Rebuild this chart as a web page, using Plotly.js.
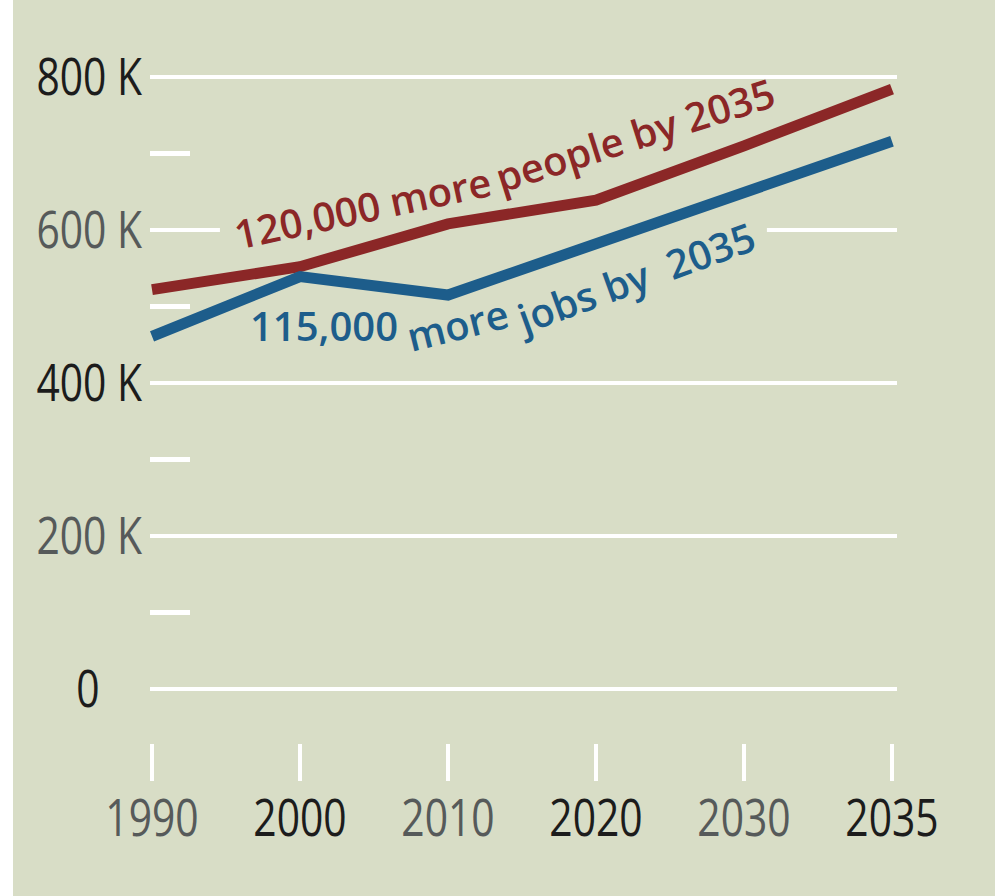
<!DOCTYPE html>
<html>
<head>
<meta charset="utf-8">
<script src="https://cdn.plot.ly/plotly-3.0.1.min.js"></script>
<style>
  html, body { margin: 0; padding: 0; background: #ffffff; }
  #chart { position: absolute; left: 13px; top: 0; width: 982px; height: 896px; }
</style>
</head>
<body>
<div id="chart"></div>
<script>
// ---- data ----
const years = ['1990', '2000', '2010', '2020', '2030', '2035'];
const people = [522000, 552000, 608000, 639000, 710000, 784000];
const jobs = [461000, 539000, 515000, 582000, 652000, 716000];

const yTickVals = [0, 200000, 400000, 600000, 800000];
const yTickText = ['0\u00a0\u00a0\u00a0\u00a0', '200 K', '400 K', '600 K', '800 K'];
const yMinorVals = [100000, 300000, 500000, 700000];
const xTickText = ['1990', '2000', '2010', '2020', '2030', '2035'];

const peopleLabel = ['120,000 more', 'people by 2035'];
const jobsLabel = ['115,000', 'more', 'jobs by\u00a0\u00a02035'];

// ---- styling ----
const BG = '#d8ddc6';
const RED = '#8b2727';
const BLUE = '#1d5d8b';
const DARK = '#1c1c1c';
const GRAY = '#565a5a';
const TICKFONT = 'Open Sans, Noto Sans, sans-serif';

const yColors = [DARK, GRAY, DARK, GRAY, DARK];
const xColors = [GRAY, DARK, GRAY, DARK, GRAY, DARK];

const traces = [
  { x: years, y: people, type: 'scatter', mode: 'lines', name: 'People',
    line: { color: RED, width: 11 }, hoverinfo: 'skip' },
  { x: years, y: jobs, type: 'scatter', mode: 'lines', name: 'Jobs',
    line: { color: BLUE, width: 11 }, hoverinfo: 'skip' }
];

const annFont = (c) => ({ family: 'Open Sans, Noto Sans, sans-serif', size: 40, color: c, weight: 600 });

const layout = {
  width: 982, height: 896,
  margin: { l: 137, r: 98, t: 60, b: 153 },
  paper_bgcolor: BG, plot_bgcolor: BG,
  showlegend: false,
  font: { family: TICKFONT, size: 51, color: DARK },
  xaxis: {
    type: 'category', range: [-0.0135, 5.034],
    tickmode: 'array', tickvals: years,
    ticktext: xTickText.map((t, i) => '<span style="color:' + xColors[i] + '">' + t + '</span>'),
    showgrid: false, zeroline: false, showline: false,
    ticks: 'outside', ticklen: 37, tickwidth: 4, tickcolor: '#ffffff',
    ticklabelstandoff: -6,
    tickfont: { family: TICKFONT, size: 51 },
    fixedrange: true
  },
  yaxis: {
    range: [-70600, 822200],
    tickmode: 'array', tickvals: yTickVals,
    ticktext: yTickText.map((t, i) => '<span style="color:' + yColors[i] + '">' + t + '</span>'),
    showgrid: true, gridcolor: '#ffffff', gridwidth: 4,
    zeroline: false, showline: false, ticks: '',
    ticklabelstandoff: 7,
    tickfont: { family: TICKFONT, size: 51 },
    minor: { tickmode: 'array', tickvals: yMinorVals, ticks: 'inside', ticklen: 40,
             tickwidth: 5, tickcolor: '#ffffff', showgrid: false },
    fixedrange: true
  },
  shapes: [
    { type: 'rect', layer: 'between', xref: 'x', yref: 'y',
      x0: 0.459, x1: 4.155, y0: 594000, y1: 606000,
      fillcolor: BG, line: { width: 0 } }
  ],
  annotations: [
    { xref: 'x', yref: 'y', x: 1.419, y: 628800, text: peopleLabel[0], textangle: -12,
      showarrow: false, xanchor: 'center', yanchor: 'middle', font: annFont(RED) },
    { xref: 'x', yref: 'y', x: 3.264, y: 724200, text: peopleLabel[1], textangle: -17.5,
      showarrow: false, xanchor: 'center', yanchor: 'middle', font: annFont(RED) },
    { xref: 'x', yref: 'y', x: 1.165, y: 474500, text: jobsLabel[0], textangle: 0,
      showarrow: false, xanchor: 'center', yanchor: 'middle', font: annFont(BLUE) },
    { xref: 'x', yref: 'y', x: 2.062, y: 476800, text: jobsLabel[1], textangle: -14,
      showarrow: false, xanchor: 'center', yanchor: 'middle', font: annFont(BLUE) },
    { xref: 'x', yref: 'y', x: 3.262, y: 537300, text: jobsLabel[2], textangle: -20,
      showarrow: false, xanchor: 'center', yanchor: 'middle', font: annFont(BLUE) }
  ]
};

Plotly.newPlot('chart', traces, layout, { displayModeBar: false, staticPlot: true }).then(function (gd) {
  // condense tick label glyphs horizontally to mimic the narrow typeface of the original
  gd.querySelectorAll('g.xtick text, g.ytick text').forEach(function (t) {
    var L = t.getComputedTextLength();
    if (L > 0) {
      t.setAttribute('textLength', (L * 0.8).toFixed(1));
      t.setAttribute('lengthAdjust', 'spacingAndGlyphs');
    }
  });
});
</script>
</body>
</html>
